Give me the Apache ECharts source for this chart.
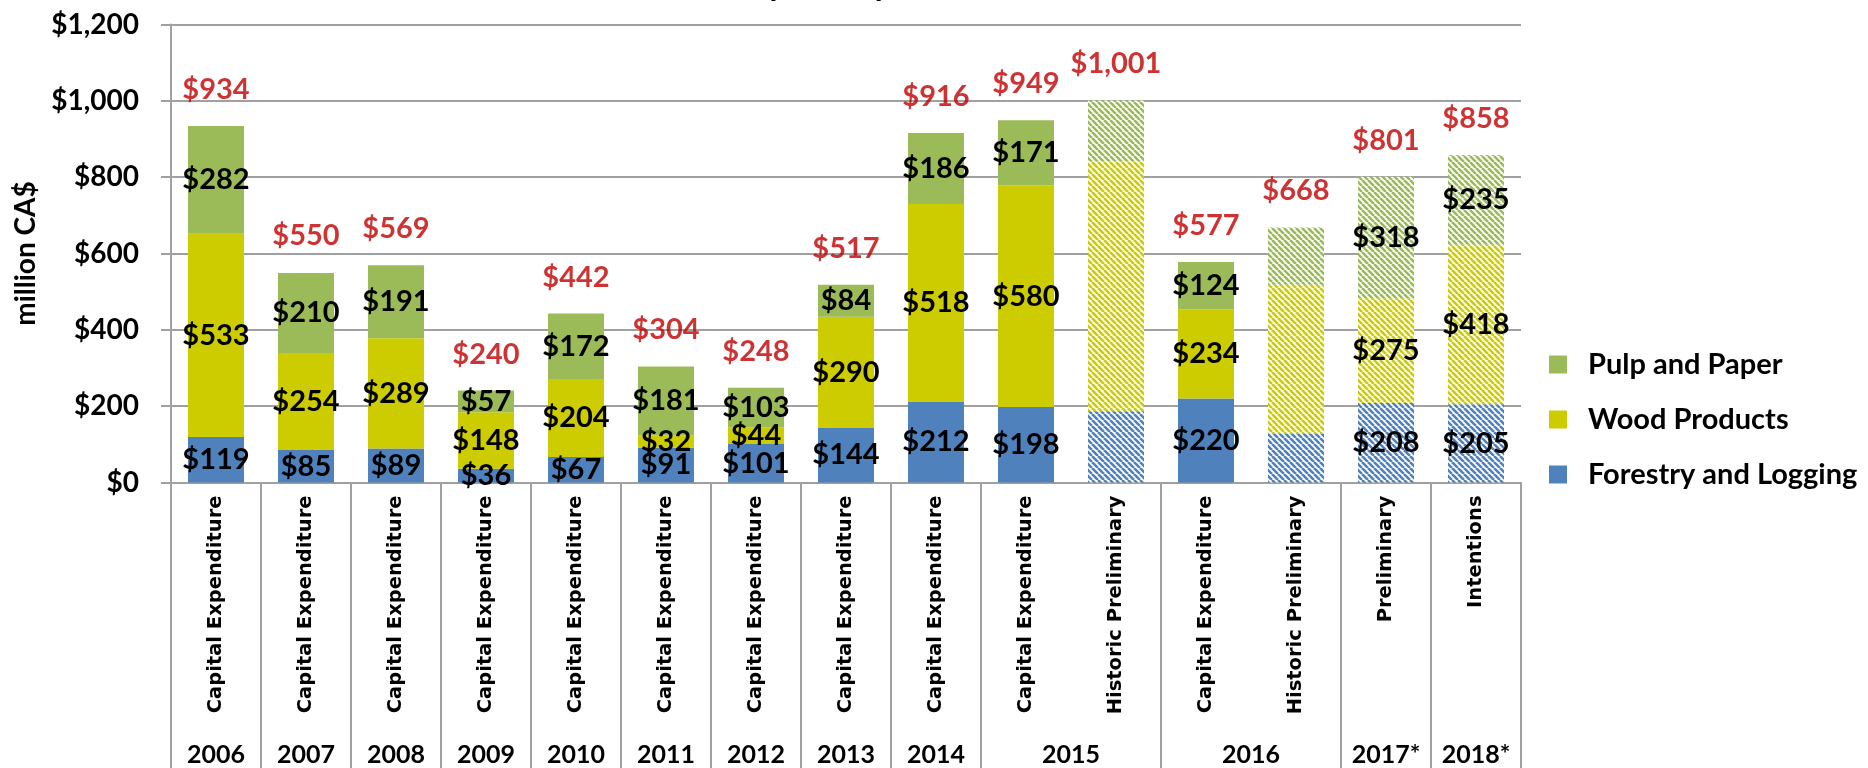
<!DOCTYPE html>
<html>
<head>
<meta charset="utf-8">
<title>Capital Expenditure</title>
<script src="https://cdn.jsdelivr.net/npm/echarts@6/dist/echarts.min.js"></script>
<style>
  html, body { margin: 0; padding: 0; background: #fff; }
  #chart { width: 1868px; height: 768px; }
</style>
</head>
<body>
<div id="chart"></div>
<script>
// categories (inner level) and the year groups (outer level)
var categories = ['Capital Expenditure', 'Capital Expenditure', 'Capital Expenditure', 'Capital Expenditure',
  'Capital Expenditure', 'Capital Expenditure', 'Capital Expenditure', 'Capital Expenditure',
  'Capital Expenditure', 'Capital Expenditure', 'Historic Preliminary', 'Capital Expenditure',
  'Historic Preliminary', 'Preliminary', 'Intentions'];
var years = ['2006', '2007', '2008', '2009', '2010', '2011', '2012', '2013', '2014', '2015', '2016', '2017*', '2018*'];
var yearSpans = [1, 1, 1, 1, 1, 1, 1, 1, 1, 2, 2, 1, 1];

// million CA$
var forestry = [119, 85, 89, 36, 67, 91, 101, 144, 212, 198, 187, 220, 127, 208, 205];
var wood     = [533, 254, 289, 148, 204, 32, 44, 290, 518, 580, 654, 234, 391, 275, 418];
var pulp     = [282, 210, 191, 57, 172, 181, 103, 84, 186, 171, 160, 124, 150, 318, 235];
var totals   = [934, 550, 569, 240, 442, 304, 248, 517, 916, 949, 1001, 577, 668, 801, 858];

var yTicks = [0, 200, 400, 600, 800, 1000, 1200];

// which bars are hatched, and which have no segment labels
var hatched = [10, 12, 13, 14];
var unlabeled = [10, 12];

var FONT = 'Lato';

function hatch(color) {
  var c = document.createElement('canvas');
  c.width = 6; c.height = 6;
  var g = c.getContext('2d');
  g.fillStyle = '#fff';
  g.fillRect(0, 0, 6, 6);
  g.strokeStyle = color;
  g.lineWidth = 2.6;
  g.beginPath();
  [-6, 0, 6].forEach(function (o) { g.moveTo(o, 0); g.lineTo(o + 6, 6); });
  g.stroke();
  return { image: c, repeat: 'repeat' };
}

function money(v) { return '$' + Number(v).toLocaleString('en-US'); }

function makeSeries(name, values, color) {
  return {
    name: name,
    type: 'bar',
    stack: 'total',
    barWidth: 56,
    itemStyle: { color: color },
    label: {
      show: true, position: 'inside', color: '#000',
      fontFamily: FONT, fontWeight: 'bold', fontSize: 29,
      formatter: function (p) { return money(p.value); }
    },
    data: values.map(function (v, i) {
      var item = { value: v };
      if (hatched.indexOf(i) >= 0) item.itemStyle = { color: hatch(color) };
      if (unlabeled.indexOf(i) >= 0) item.label = { show: false };
      return item;
    })
  };
}

// outer axis: half-slots so group labels can sit on spans of 1 or 2 categories
var yearSlots = [], boundaries = {};
for (var k = 0; k <= categories.length * 2; k++) yearSlots.push('');
var pos = 0;
boundaries[0] = true;
years.forEach(function (y, i) {
  yearSlots[2 * pos + yearSpans[i]] = y;
  pos += yearSpans[i];
  boundaries[2 * pos] = true;
});

var grey = '#A0A0A0';
var chart = echarts.init(document.getElementById('chart'));
chart.setOption({
  animation: false,
  // title sits mostly above the picture, only its descenders show
  title: {
    text: 'Capital Expenditure',
    left: 732, top: -30, padding: 0,
    textStyle: { fontFamily: FONT, fontWeight: 'bold', fontSize: 32, color: '#000' }
  },
  grid: { left: 171, right: 347, top: 24.5, bottom: 285.5, containLabel: false },
  legend: {
    orient: 'vertical',
    left: 1544, top: 345,
    itemWidth: 18, itemHeight: 18, itemGap: 26,
    icon: 'rect',
    data: ['Pulp and Paper', 'Wood Products', 'Forestry and Logging'],
    textStyle: { fontFamily: FONT, fontWeight: 'bold', fontSize: 29, color: '#000', padding: [0, 0, 0, 16] }
  },
  xAxis: [
    {
      type: 'category',
      data: categories,
      axisLine: { lineStyle: { color: grey, width: 2 } },
      axisTick: { length: 238, lineStyle: { color: grey, width: 2 } },
      axisLabel: {
        rotate: 90, interval: 0, margin: 13,
        fontFamily: 'DejaVu Sans', fontWeight: 'bold', fontSize: 19.5, color: '#000'
      }
    },
    {
      type: 'category',
      position: 'bottom',
      boundaryGap: false,
      data: yearSlots,
      axisLine: { show: false },
      axisTick: {
        length: 290,
        interval: function (idx) { return !!boundaries[idx]; },
        lineStyle: { color: grey, width: 2 }
      },
      axisLabel: {
        interval: 0, margin: 260,
        fontFamily: FONT, fontWeight: 'bold', fontSize: 25, color: '#000'
      }
    }
  ],
  yAxis: {
    type: 'value',
    min: yTicks[0], max: yTicks[yTicks.length - 1], interval: 200,
    name: 'million CA$',
    nameLocation: 'middle',
    nameGap: 121,
    nameTextStyle: { fontFamily: FONT, fontWeight: 'bold', fontSize: 28, color: '#000' },
    axisLine: { show: true, lineStyle: { color: grey, width: 2 } },
    axisTick: { show: true, length: 10, lineStyle: { color: grey, width: 2 } },
    splitLine: { lineStyle: { color: grey, width: 2 } },
    axisLabel: {
      margin: 32,
      fontFamily: FONT, fontWeight: 'bold', fontSize: 28, color: '#000',
      formatter: money
    }
  },
  series: [
    makeSeries('Forestry and Logging', forestry, '#4F81BD'),
    makeSeries('Wood Products', wood, '#CCCC00'),
    makeSeries('Pulp and Paper', pulp, '#9BBB59'),
    {
      name: 'Total',
      type: 'scatter',
      symbolSize: 0,
      z: 5,
      data: totals,
      label: {
        show: true, position: 'top', distance: 22,
        color: '#C00000', fontFamily: FONT, fontWeight: 'bold', fontSize: 29,
        formatter: function (p) { return money(p.value); }
      }
    }
  ]
});
</script>
</body>
</html>
